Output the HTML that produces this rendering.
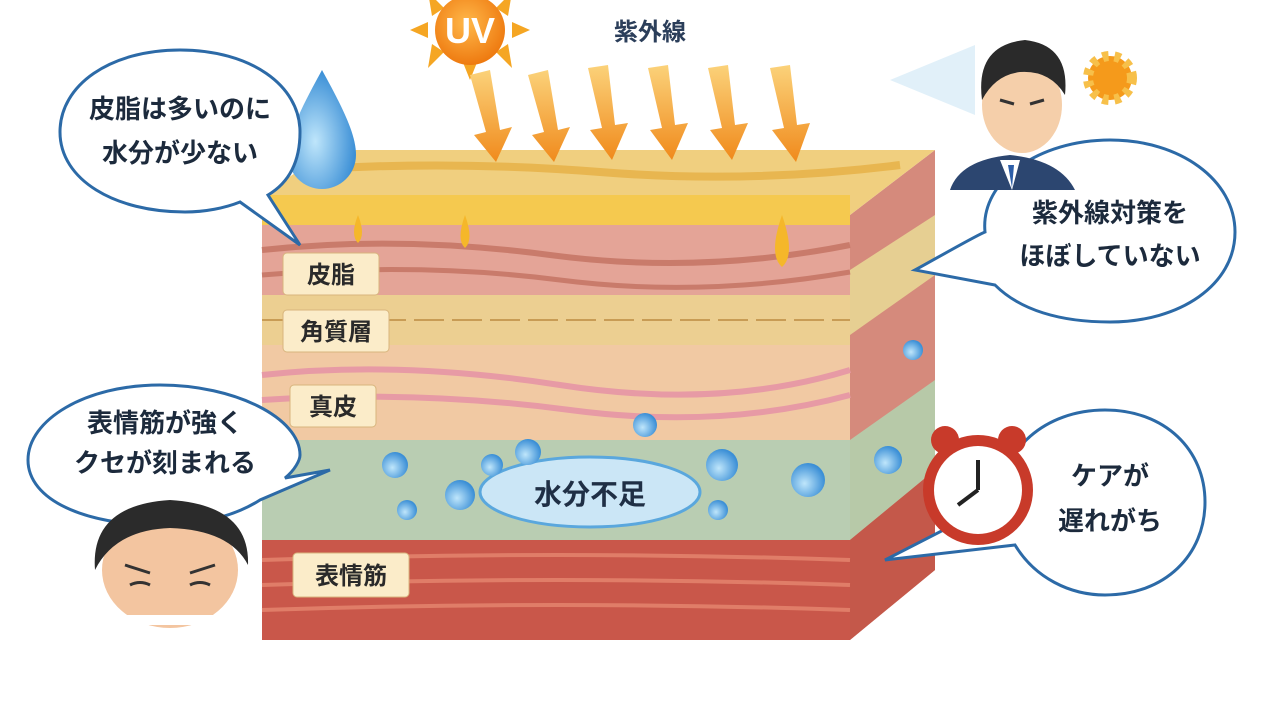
<!DOCTYPE html>
<html><head><meta charset="utf-8"><style>
body{margin:0;background:#fff;width:1280px;height:720px;overflow:hidden;font-family:"Liberation Sans","Noto Sans CJK JP",sans-serif}
svg text{font-family:"Liberation Sans","Noto Sans CJK JP",sans-serif}
</style></head><body>
<svg width="1280" height="720" viewBox="0 0 1280 720" xmlns="http://www.w3.org/2000/svg">
<defs>
<linearGradient id="arr" x1="0" y1="0" x2="0" y2="1"><stop offset="0" stop-color="#fbd27a"/><stop offset="1" stop-color="#f08a1c"/></linearGradient>
<radialGradient id="sun" cx="0.45" cy="0.4" r="0.6"><stop offset="0" stop-color="#ffb84a"/><stop offset="1" stop-color="#ee7a10"/></radialGradient>
<radialGradient id="drop" cx="0.4" cy="0.6" r="0.6"><stop offset="0" stop-color="#bfe6fb"/><stop offset="1" stop-color="#3b8fd6"/></radialGradient>
</defs>
<polygon points="850,215 935,150 935,570 850,640" fill="#d58a7c"/>
<polygon points="850,270 935,215 935,275 850,335" fill="#e6cf92"/>
<polygon points="850,440 935,380 935,470 850,540" fill="#b7c9a8"/>
<polygon points="850,540 935,470 935,570 850,640" fill="#c4584a"/>
<polygon points="262,195 330,150 935,150 850,215" fill="#f0cf7f"/>
<path d="M300,170 Q450,160 600,172 T900,165" stroke="#e8b650" stroke-width="8" fill="none"/>
<rect x="262" y="195" width="588" height="30" fill="#f5c94f"/>
<rect x="262" y="225" width="588" height="70" fill="#e4a497"/>
<path d="M262,250 Q400,235 550,255 T850,245" stroke="#c97b6b" stroke-width="6" fill="none"/>
<path d="M262,275 Q420,262 560,280 T850,272" stroke="#c97b6b" stroke-width="5" fill="none"/>
<rect x="262" y="295" width="588" height="50" fill="#eccf91"/>
<path d="M262,320 L850,320" stroke="#c89c55" stroke-width="2" stroke-dasharray="30 8"/>
<rect x="262" y="345" width="588" height="95" fill="#f1c9a3"/>
<path d="M262,375 Q400,360 560,385 T850,370 M262,400 Q420,390 570,410 T850,395" stroke="#e79aa5" stroke-width="6" fill="none"/>
<rect x="262" y="440" width="588" height="100" fill="#b9cdb2"/>
<rect x="262" y="540" width="588" height="100" fill="#c9574a"/>
<path d="M262,560 Q560,550 850,560 M262,585 Q560,575 850,585 M262,610 Q560,600 850,610" stroke="#e07d68" stroke-width="4" fill="none"/>
<path d="M358,215 q-8,20 0,28 q8,-8 0,-28z" fill="#f5b72a"/>
<path d="M465,215 q-9,25 0,33 q9,-8 0,-33z" fill="#f5b72a"/>
<path d="M782,215 q-14,40 0,52 q14,-12 0,-52z" fill="#f5b72a"/>
<ellipse cx="590" cy="492" rx="110" ry="35" fill="#cbe6f6" stroke="#5aa7dd" stroke-width="3"/>
<text x="590" y="504" font-size="28" font-weight="bold" text-anchor="middle" fill="#1f2f45">水分不足</text>
<g fill="url(#drop)">
<circle cx="395" cy="465" r="13"/><circle cx="460" cy="495" r="15"/><circle cx="492" cy="465" r="11"/>
<circle cx="528" cy="452" r="13"/><circle cx="645" cy="425" r="12"/><circle cx="722" cy="465" r="16"/>
<circle cx="808" cy="480" r="17"/><circle cx="718" cy="510" r="10"/><circle cx="407" cy="510" r="10"/>
<circle cx="888" cy="460" r="14"/><circle cx="913" cy="350" r="10"/>
</g>
<g font-size="24" font-weight="bold" fill="#2a2a2a">
<rect x="283" y="253" width="96" height="42" rx="4" fill="#fbecc9" stroke="#d8b57d"/><text x="331" y="283" text-anchor="middle">皮脂</text>
<rect x="283" y="310" width="106" height="42" rx="4" fill="#fbecc9" stroke="#d8b57d"/><text x="336" y="340" text-anchor="middle">角質層</text>
<rect x="290" y="385" width="86" height="42" rx="4" fill="#fbecc9" stroke="#d8b57d"/><text x="333" y="415" text-anchor="middle">真皮</text>
<rect x="293" y="553" width="116" height="44" rx="4" fill="#fbecc9" stroke="#d8b57d"/><text x="351" y="584" text-anchor="middle">表情筋</text>
</g>
<g fill="#f5a623">
<polygon points="470,-15 478,2 462,2"/><polygon points="410,30 428,22 428,38"/><polygon points="530,30 512,22 512,38"/>
<polygon points="428,-8 444,8 432,16"/><polygon points="512,-8 496,8 508,16"/><polygon points="428,68 444,52 432,44"/><polygon points="512,68 496,52 508,44"/>
<polygon points="470,80 478,60 462,60"/>
</g>
<circle cx="470" cy="30" r="35" fill="url(#sun)"/>
<text x="470" y="43" font-size="36" font-weight="bold" fill="#fff" text-anchor="middle">UV</text>
<text x="650" y="40" font-size="24" font-weight="bold" fill="#2b3e5a" text-anchor="middle">紫外線</text>
<g fill="url(#arr)">
<polygon points="470,75 490,70 500,130 512,127 496,162 474,135 486,132"/>
<polygon points="528,75 548,70 558,130 570,127 554,162 532,135 544,132"/>
<polygon points="588,68 608,65 615,125 628,123 612,160 590,130 602,128"/>
<polygon points="648,68 668,65 675,125 688,123 672,160 650,130 662,128"/>
<polygon points="708,68 728,65 735,125 748,123 732,160 710,130 722,128"/>
<polygon points="770,68 790,65 797,125 810,123 796,162 772,130 784,128"/>
</g>
<path d="M322,70 C300,110 288,135 288,155 a34,34 0 0 0 68,0 C356,135 344,110 322,70z" fill="url(#drop)"/>
<g fill="#fff" stroke="#2c6aa7" stroke-width="3">
<path d="M180,50 C110,50 60,85 60,132 C60,180 115,212 185,212 C205,212 225,208 240,202 L300,245 L268,195 C290,182 300,160 300,132 C300,85 250,50 180,50z"/>
<path d="M1110,140 C1040,140 980,180 985,232 C975,236 930,262 915,270 L995,285 C1020,310 1060,322 1110,322 C1180,322 1235,285 1235,232 C1235,180 1180,140 1110,140z"/>
<path d="M160,385 C85,385 28,420 28,460 C28,500 85,525 160,525 C200,525 235,516 260,500 L330,470 L285,478 C295,470 300,460 300,455 C300,418 235,385 160,385z"/>
<path d="M1105,410 C1045,410 1000,450 1002,500 L885,560 L1015,545 C1035,578 1070,595 1105,595 C1165,595 1205,555 1205,502 C1205,450 1165,410 1105,410z"/>
</g>
<g font-size="26" font-weight="bold" fill="#1c2a3c" text-anchor="middle">
<text x="180" y="118">皮脂は多いのに</text><text x="180" y="162">水分が少ない</text>
<text x="1110" y="222">紫外線対策を</text><text x="1110" y="265">ほぼしていない</text>
<text x="165" y="432">表情筋が強く</text><text x="165" y="472">クセが刻まれる</text>
<text x="1110" y="485">ケアが</text><text x="1110" y="530">遅れがち</text>
</g>
<circle cx="978" cy="490" r="55" fill="#c83a2a"/>
<circle cx="978" cy="490" r="44" fill="#fff"/>
<circle cx="945" cy="440" r="14" fill="#c83a2a"/><circle cx="1012" cy="440" r="14" fill="#c83a2a"/>
<line x1="978" y1="490" x2="978" y2="460" stroke="#222" stroke-width="4"/><line x1="978" y1="490" x2="958" y2="505" stroke="#222" stroke-width="4"/>
<circle cx="1110" cy="78" r="22" fill="#f59a1b" stroke="#f7c04a" stroke-width="10" stroke-dasharray="6 6"/>
<polygon points="890,80 975,45 975,115" fill="#d9ecf7" opacity="0.8"/>
<path d="M950,190 Q960,160 1010,155 Q1060,160 1075,190z" fill="#2c4670"/>
<polygon points="1000,160 1020,160 1012,190" fill="#fff"/><polygon points="1008,165 1014,165 1012,188" fill="#2d5ea8"/>
<ellipse cx="1022" cy="105" rx="40" ry="48" fill="#f5cfaa"/>
<path d="M982,100 Q975,45 1025,40 Q1070,45 1065,95 Q1050,70 1020,72 Q995,75 982,100z" fill="#2a2a2a"/>
<path d="M1000,100 l14,4 M1030,104 l14,-4" stroke="#333" stroke-width="3"/>
<ellipse cx="170" cy="570" rx="68" ry="58" fill="#f3c5a0"/>
<path d="M95,570 Q90,505 170,500 Q250,505 248,565 Q230,530 170,528 Q115,530 95,570z" fill="#2b2b2b"/>
<path d="M125,565 l25,8 M215,565 l-25,8 M130,585 q10,-5 20,0 M190,585 q10,-5 20,0" stroke="#333" stroke-width="3" fill="none"/>
<rect x="100" y="615" width="150" height="10" fill="#fff"/>
</svg>
</body></html>
